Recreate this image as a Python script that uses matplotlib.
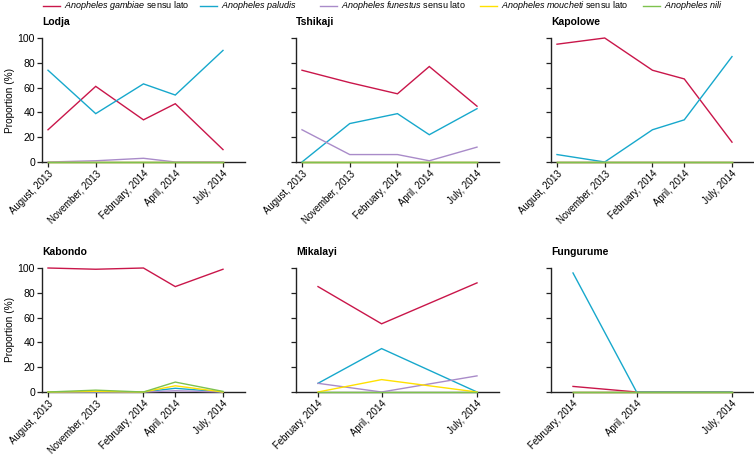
import numpy as np
import matplotlib
matplotlib.use("Agg")
import matplotlib.pyplot as plt
from matplotlib.font_manager import findfont, FontProperties

# ---- data (proportion %) ----
species = ["gambiae", "paludis", "funestus", "moucheti", "nili"]
species_labels = [
    r"$\mathit{Anopheles\ gambiae}$ sensu lato",
    r"$\mathit{Anopheles\ paludis}$",
    r"$\mathit{Anopheles\ funestus}$ sensu lato",
    r"$\mathit{Anopheles\ moucheti}$ sensu lato",
    r"$\mathit{Anopheles\ nili}$",
]
species_colors = ["#c9164a", "#17a8cc", "#a98bc9", "#ffe100", "#7ec24e"]

dates_full = ["August, 2013", "November, 2013", "February, 2014", "April, 2014", "July, 2014"]
dates_short = ["February, 2014", "April, 2014", "July, 2014"]

lodja_gambiae = [26, 61, 34, 47, 10]
lodja_paludis = [74, 39, 63, 54, 90]
lodja_funestus = [0, 1, 3, 0, 0]
lodja_moucheti = [0, 0, 0, 0, 0]
lodja_nili = [0, 0, 0, 0, 0]

tshikaji_gambiae = [74, 64, 55, 77, 45]
tshikaji_paludis = [0, 31, 39, 22, 43]
tshikaji_funestus = [26, 6, 6, 1, 12]
tshikaji_moucheti = [0, 0, 0, 0, 0]
tshikaji_nili = [0, 0, 0, 0, 0]

kapolowe_gambiae = [95, 100, 74, 67, 16]
kapolowe_paludis = [6, 0, 26, 34, 85]
kapolowe_funestus = [0, 0, 0, 0, 0]
kapolowe_moucheti = [0, 0, 0, 0, 0]
kapolowe_nili = [0, 0, 0, 0, 0]

kabondo_gambiae = [100, 99, 100, 85, 99]
kabondo_paludis = [0, 0, 0, 3, 0]
kabondo_funestus = [0, 0, 0, 1, 0]
kabondo_moucheti = [0, 0.5, 0, 5, 0]
kabondo_nili = [0, 1.5, 0, 8, 0.5]

mikalayi_gambiae = [85, 55, 88]
mikalayi_paludis = [7, 35, 0]
mikalayi_funestus = [7, 0, 13]
mikalayi_moucheti = [0, 10, 0]
mikalayi_nili = [0, 0, 0]

fungurume_gambiae = [4.5, 0, 0]
fungurume_paludis = [96, 0, 0]
fungurume_funestus = [0, 0, 0]
fungurume_moucheti = [0, 0, 0]
fungurume_nili = [0, 0, 0]

sites = [
    ("Lodja", dates_full, [lodja_gambiae, lodja_paludis, lodja_funestus, lodja_moucheti, lodja_nili]),
    ("Tshikaji", dates_full, [tshikaji_gambiae, tshikaji_paludis, tshikaji_funestus, tshikaji_moucheti, tshikaji_nili]),
    ("Kapolowe", dates_full, [kapolowe_gambiae, kapolowe_paludis, kapolowe_funestus, kapolowe_moucheti, kapolowe_nili]),
    ("Kabondo", dates_full, [kabondo_gambiae, kabondo_paludis, kabondo_funestus, kabondo_moucheti, kabondo_nili]),
    ("Mikalayi", dates_short, [mikalayi_gambiae, mikalayi_paludis, mikalayi_funestus, mikalayi_moucheti, mikalayi_nili]),
    ("Fungurume", dates_short, [fungurume_gambiae, fungurume_paludis, fungurume_funestus, fungurume_moucheti, fungurume_nili]),
]

MONTHS = {"January": 1, "February": 2, "March": 3, "April": 4, "May": 5, "June": 6,
          "July": 7, "August": 8, "September": 9, "October": 10, "November": 11, "December": 12}


def month_index(label):
    m, y = label.split(", ")
    return (int(y) - 2013) * 12 + MONTHS[m] - 8


# ---- fonts ----
fam = "Liberation Sans Narrow"
if "LiberationSansNarrow" not in findfont(FontProperties(family=fam)).replace("-", ""):
    fam = "Liberation Sans"
plt.rcParams["font.family"] = [fam, "DejaVu Sans"]
plt.rcParams["mathtext.fontset"] = "custom"
plt.rcParams["mathtext.rm"] = fam
plt.rcParams["mathtext.it"] = fam + ":italic"

W, H = 754, 455
fig = plt.figure(figsize=(W / 100, H / 100), dpi=100)

# axes boxes in pixels: (left, top, width, height)
col_left = [42, 296, 551]
row_top = [38, 268]
ax_w, ax_h = 203, 124

for i, (name, dates, series) in enumerate(sites):
    r, c = divmod(i, 3)
    left, top = col_left[c], row_top[r]
    ax = fig.add_axes([left / W, 1 - (top + ax_h) / H, ax_w / W, ax_h / H])
    x = np.array([month_index(d) for d in dates])

    # left padding in px before first date, right padding after last
    lpad = 6 if len(dates) == 5 else 22
    rpad = 22
    span = x[-1] - x[0]
    ppm = (ax_w - lpad - rpad) / span
    ax.set_xlim(x[0] - lpad / ppm, x[-1] + rpad / ppm)
    ax.set_ylim(0, 100)

    for vals, col in zip(series, species_colors):
        ax.plot(x, vals, color=col, lw=1.0, clip_on=False, zorder=3,
                solid_joinstyle="miter")

    ax.set_xticks(x)
    ax.set_xticklabels(dates, rotation=45, ha="right", rotation_mode="anchor",
                       fontsize=6.9)
    ax.set_yticks([0, 20, 40, 60, 80, 100])
    if c == 0:
        ax.set_yticklabels([0, 20, 40, 60, 80, 100], fontsize=7.6)
        ax.set_ylabel("Proportion (%)", fontsize=7.3, labelpad=2)
    else:
        ax.set_yticklabels([])
    ax.tick_params(axis="both", length=3.5, width=0.9, color="#222222", pad=1.5)
    ax.tick_params(axis="x", pad=1.0)
    for s in ["top", "right"]:
        ax.spines[s].set_visible(False)
    for s in ["left", "bottom"]:
        ax.spines[s].set_linewidth(1.0)
        ax.spines[s].set_color("#222222")

    fig.text(left / W, 1 - (top - 16) / H, name, fontsize=7.5, fontweight="bold",
             ha="left", va="center")

# legend along the top
leg_x = [43, 200, 320, 480, 643]
for lx, lab, col in zip(leg_x, species_labels, species_colors):
    fig.add_artist(plt.Line2D([lx / W, (lx + 17) / W], [1 - 6 / H, 1 - 6 / H],
                              color=col, lw=1.0))
    fig.text((lx + 21) / W, 1 - 6 / H, lab, fontsize=6.5, ha="left", va="center")

fig.savefig("out.png", dpi=100)
